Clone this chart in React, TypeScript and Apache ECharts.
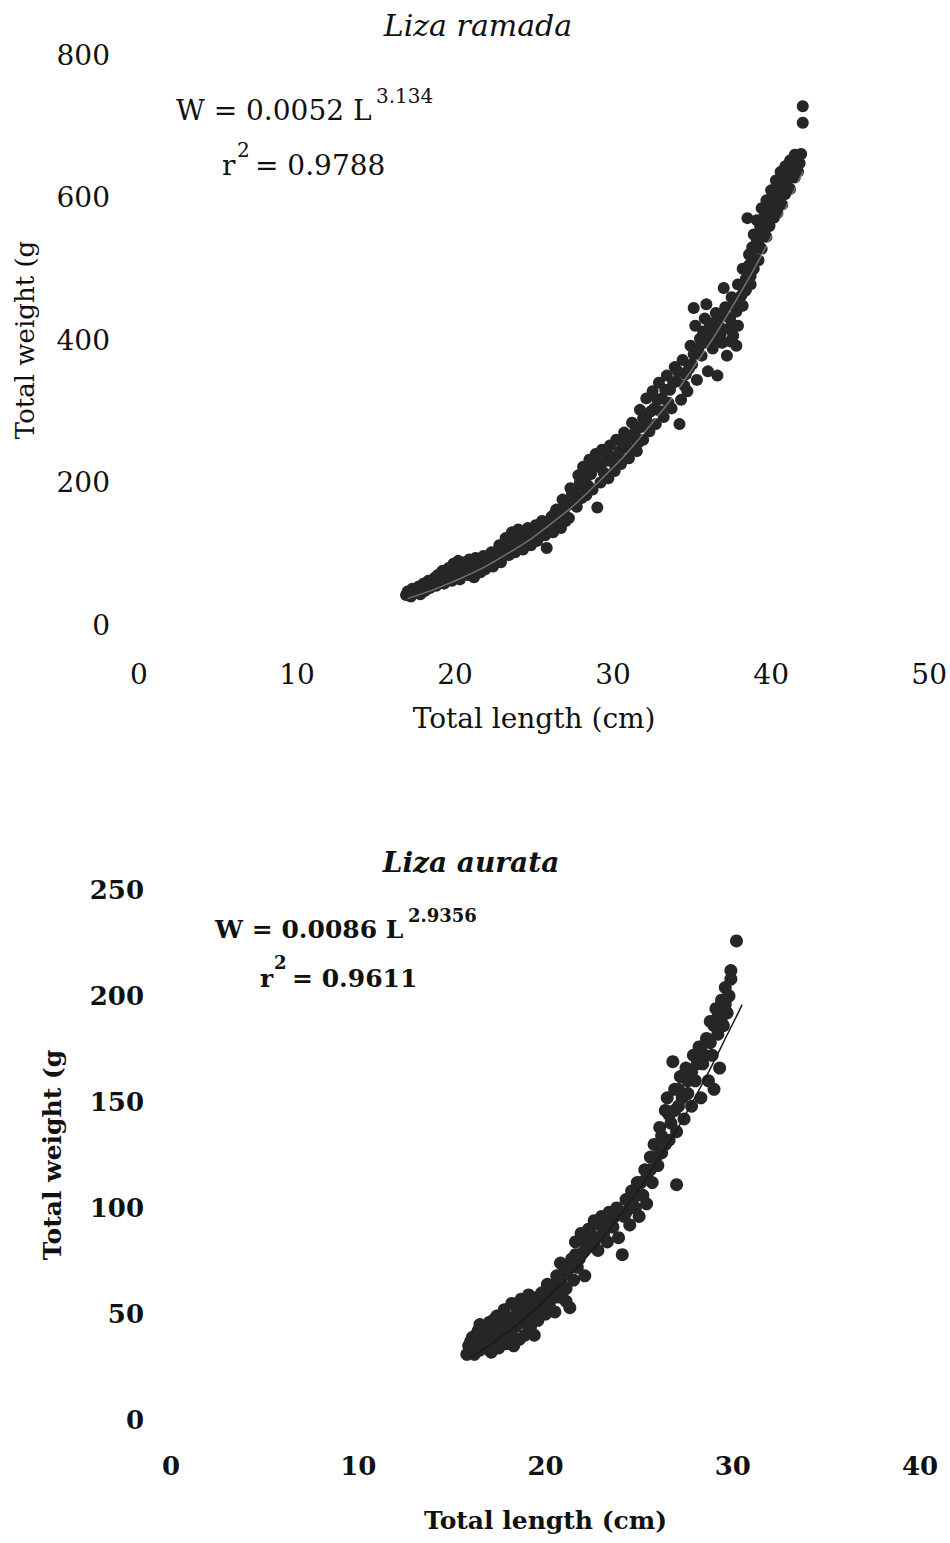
import React, { useEffect, useRef } from "react";
import * as echarts from "echarts";

// Liza ramada: total length (cm), total weight (g)
const ramadaPoints: [number, number][] = [
  [16.9, 42], [17.0, 47], [17.2, 40], [17.3, 51], [17.5, 45], [17.7, 54], [17.8, 43], [18.0, 58],
  [18.1, 48], [18.3, 62], [18.4, 52], [18.6, 57], [18.7, 66], [18.8, 55], [18.9, 70], [19.0, 61],
  [19.2, 76], [19.3, 58], [19.5, 68], [19.6, 80], [19.8, 62], [19.9, 86], [20.0, 72], [20.2, 90],
  [20.3, 64], [20.4, 79], [20.6, 88], [20.8, 70], [20.9, 92], [21.0, 80], [21.2, 67], [21.3, 94],
  [21.5, 84], [21.6, 74], [21.8, 97], [21.9, 78], [22.1, 88], [22.3, 102], [22.4, 82], [22.6, 96],
  [22.8, 112], [22.9, 88], [23.1, 104], [23.2, 122], [23.4, 98], [23.6, 130], [23.7, 112], [23.8, 102],
  [24.0, 134], [24.1, 118], [24.3, 106], [24.4, 128], [24.6, 136], [24.8, 112], [24.9, 124], [25.1, 140],
  [25.2, 118], [25.3, 132], [25.5, 146], [25.7, 126], [25.8, 108], [25.9, 140], [26.1, 152], [26.2, 130],
  [26.4, 162], [26.5, 144], [26.7, 136], [26.8, 176], [26.9, 156], [27.1, 168], [27.2, 150], [27.3, 192],
  [27.5, 178], [27.7, 166], [27.8, 210], [27.9, 188], [28.1, 222], [28.2, 200], [28.3, 182], [28.5, 232],
  [28.6, 212], [28.7, 190], [28.9, 240], [29.0, 165], [29.1, 222], [29.2, 200], [29.3, 246], [29.5, 230],
  [29.7, 206], [29.8, 252], [29.9, 236], [30.1, 216], [30.2, 260], [30.4, 244], [30.5, 226], [30.7, 270],
  [30.8, 250], [31.0, 234], [31.2, 284], [31.3, 262], [31.5, 244], [31.7, 302], [31.8, 278], [31.9, 260],
  [32.1, 318], [32.1, 292], [32.3, 272], [32.5, 328], [32.6, 304], [32.7, 282], [32.9, 340], [33.1, 318],
  [33.2, 292], [33.4, 350], [33.6, 330], [33.7, 304], [33.9, 362], [34.0, 342], [34.2, 282], [34.3, 316],
  [34.4, 372], [34.6, 352], [34.7, 328], [34.9, 392], [35.0, 366], [35.1, 445], [35.2, 420], [35.3, 344],
  [35.5, 402], [35.6, 378], [35.8, 430], [35.9, 450], [36.0, 356], [36.2, 410], [36.3, 388], [36.5, 438],
  [36.6, 350], [36.7, 420], [36.9, 396], [37.0, 473], [37.1, 446], [37.2, 378], [37.4, 430], [37.5, 460],
  [37.6, 406], [37.8, 392], [37.9, 478], [38.0, 448], [38.2, 500], [38.3, 468], [38.5, 571], [38.6, 520],
  [38.7, 490], [38.9, 548], [39.0, 514], [39.1, 568], [39.2, 534], [39.4, 585], [39.5, 552], [39.7, 596],
  [39.8, 570], [40.0, 610], [40.1, 582], [40.3, 624], [40.4, 596], [40.6, 636], [40.7, 610], [40.9, 644],
  [41.0, 622], [41.2, 652], [41.3, 634], [41.5, 660], [41.6, 642], [41.8, 648], [41.9, 661], [42.0, 705],
  [42.0, 728],
  [17.1, 44], [17.4, 46], [17.6, 50], [17.9, 52], [18.2, 55], [18.5, 60], [18.9, 63], [19.1, 66],
  [19.4, 64], [19.7, 74], [20.1, 78], [20.5, 84], [20.7, 76], [21.1, 86], [21.4, 80], [21.7, 90],
  [22.0, 86], [22.2, 94], [22.5, 90], [22.7, 104], [23.0, 96], [23.3, 112], [23.5, 118], [23.9, 124],
  [24.2, 112], [24.5, 120], [24.7, 130], [25.0, 132], [25.4, 126], [25.6, 138], [26.0, 146], [26.3, 156],
  [26.6, 154], [26.9, 166], [27.0, 146], [27.4, 184], [27.6, 172], [27.9, 200], [28.0, 178], [28.4, 210],
  [28.4, 196], [28.8, 222], [29.0, 230], [29.4, 214], [29.6, 240], [30.0, 228], [30.3, 236], [30.6, 256],
  [30.9, 262], [31.1, 246], [31.4, 272], [31.6, 256], [31.9, 290], [32.2, 282], [32.4, 300], [32.8, 316],
  [33.0, 300], [33.3, 330], [33.5, 312], [33.8, 340], [34.1, 356], [34.5, 336], [34.8, 360], [35.1, 380],
  [35.4, 388], [35.7, 412], [35.9, 396], [36.1, 424], [36.4, 402], [36.6, 426], [36.8, 408], [37.1, 434],
  [37.3, 416], [37.6, 448], [37.8, 440], [38.1, 462], [38.4, 486], [38.6, 505], [38.8, 530], [39.1, 540],
  [39.3, 560], [39.6, 575], [39.9, 590], [40.2, 602], [40.5, 615], [40.8, 630], [41.1, 640], [41.4, 648],
  [41.7, 655],
  [38.4, 470], [38.7, 478], [38.9, 500], [39.2, 512], [39.4, 528], [39.7, 545], [39.9, 560], [40.2, 572],
  [40.4, 578], [40.7, 590], [40.9, 605], [41.2, 612], [41.5, 628], [41.7, 636], [39.0, 530], [39.6, 562],
  [40.1, 596], [40.6, 604], [41.0, 630], [38.2, 448], [37.9, 420], [37.4, 398],
];

// Liza ramada fitted curve W = 0.0052 L^3.134
const ramadaFitL = [17, 20, 23, 26, 29, 32, 35, 38, 40, 42];
const ramadaFitW = [37, 62, 96, 141, 199, 271, 359, 464, 545, 636];

// Liza aurata: total length (cm), total weight (g)
const aurataPoints: [number, number][] = [
  [15.8, 31], [15.9, 35], [16.0, 33], [16.1, 39], [16.2, 31], [16.3, 36], [16.4, 42], [16.5, 33],
  [16.6, 38], [16.7, 44], [16.8, 34], [16.9, 40], [17.0, 46], [17.1, 32], [17.2, 37], [17.3, 43],
  [17.4, 49], [17.5, 34], [17.6, 40], [17.7, 46], [17.8, 52], [17.9, 36], [18.0, 42], [18.1, 48],
  [18.2, 55], [18.3, 35], [18.4, 44], [18.5, 51], [18.6, 38], [18.7, 57], [18.8, 46], [18.9, 40],
  [19.0, 53], [19.1, 59], [19.2, 44], [19.3, 50], [19.4, 40], [19.5, 56], [19.6, 47], [19.8, 60],
  [19.9, 52], [20.0, 57], [20.1, 64], [20.2, 54], [20.3, 61], [20.5, 51], [20.6, 68], [20.7, 58],
  [20.8, 74], [20.9, 63], [21.0, 70], [21.1, 56], [21.3, 53], [21.4, 76], [21.5, 66], [21.6, 84],
  [21.7, 72], [21.9, 88], [22.0, 79], [22.1, 68], [22.3, 90], [22.4, 82], [22.6, 94], [22.7, 86],
  [22.8, 80], [23.0, 96], [23.1, 88], [23.3, 84], [23.4, 98], [23.6, 91], [23.8, 100], [23.9, 86],
  [24.1, 78], [24.2, 96], [24.3, 104], [24.5, 92], [24.6, 108], [24.8, 100], [24.9, 112], [25.0, 96],
  [25.2, 106], [25.3, 118], [25.4, 102], [25.6, 124], [25.7, 112], [25.8, 130], [26.0, 120], [26.1, 138],
  [26.2, 126], [26.4, 146], [26.5, 152], [26.6, 132], [26.7, 140], [26.8, 169], [26.9, 156], [27.0, 111],
  [27.0, 136], [27.1, 148], [27.2, 162], [27.4, 142], [27.5, 166], [27.6, 154], [27.8, 148], [27.9, 172],
  [28.0, 160], [28.2, 176], [28.3, 152], [28.4, 168], [28.6, 180], [28.7, 160], [28.8, 188], [28.9, 172],
  [29.0, 156], [29.1, 194], [29.2, 182], [29.3, 166], [29.4, 198], [29.5, 186], [29.6, 204], [29.7, 192],
  [29.9, 212], [29.9, 208], [30.2, 226],
  [16.0, 37], [16.3, 40], [16.5, 45], [16.8, 38], [17.0, 41], [17.2, 47], [17.5, 44], [17.7, 38],
  [17.9, 47], [18.2, 40], [18.4, 49], [18.6, 53], [18.9, 50], [19.1, 46], [19.3, 55], [19.6, 58],
  [19.8, 54], [20.0, 50], [20.3, 57], [20.5, 64], [20.8, 66], [21.1, 62], [21.3, 72], [21.6, 78],
  [21.8, 76], [22.1, 84], [22.4, 88], [22.6, 84], [22.9, 92], [23.2, 92], [23.5, 94], [23.7, 96],
  [24.0, 98], [24.3, 98], [24.6, 102], [24.9, 106], [25.1, 112], [25.4, 114], [25.6, 118], [25.9, 124],
  [26.2, 134], [26.4, 130], [26.6, 144], [26.9, 146], [27.1, 156], [27.3, 152], [27.6, 160], [27.8, 164],
  [28.1, 168], [28.3, 176], [28.5, 172], [28.8, 178], [29.0, 186], [29.2, 190], [29.4, 190], [29.6, 196],
  [29.8, 200],
];

// Liza aurata fitted curve W = 0.0086 L^2.9356
const aurataFitL = [16, 18, 20, 22, 24, 26, 28, 30, 30.5];
const aurataFitW = [29.5, 41.6, 56.8, 75, 96.9, 122.6, 152.4, 186.9, 195.9];

// Axis tick settings
const ramadaX = { min: 0, max: 50, interval: 10 };
const ramadaY = { min: 0, max: 800, interval: 200 };
const aurataX = { min: 0, max: 40, interval: 10 };
const aurataY = { min: 0, max: 250, interval: 50 };

const FONT = "DejaVu Serif";
const INK = "#111111";
const DOT = "#262626";

function pair(xs: number[], ys: number[]): [number, number][] {
  return xs.map((x, i) => [x, ys[i]]);
}

export default function App() {
  const ref = useRef<HTMLDivElement>(null);

  useEffect(() => {
    if (!ref.current) return;
    const chart = echarts.init(ref.current, undefined, { renderer: "svg" });

    const hidden = { show: false };
    const txt = (
      text: string,
      x: number,
      y: number,
      size: number,
      opts: { weight?: string; style?: string; align?: string } = {}
    ) => ({
      type: "text",
      x,
      y,
      silent: true,
      style: {
        text,
        fill: INK,
        fontFamily: FONT,
        fontSize: size,
        fontWeight: opts.weight || "normal",
        fontStyle: opts.style || "normal",
        align: opts.align || "left",
        verticalAlign: "middle",
        textAlign: opts.align || "left",
        textVerticalAlign: "middle",
      },
    });

    const option: any = {
      animation: false,
      backgroundColor: "#ffffff",
      grid: [
        { left: 139, top: 55, width: 791, height: 570 },
        { left: 171, top: 890, width: 749, height: 530 },
      ],
      xAxis: [
        {
          type: "value",
          gridIndex: 0,
          ...ramadaX,
          axisLine: hidden,
          axisTick: hidden,
          splitLine: hidden,
          axisLabel: {
            fontFamily: FONT,
            fontSize: 28,
            color: INK,
            margin: 35,
            showMinLabel: true,
            showMaxLabel: true,
          },
          name: "Total length (cm)",
          nameLocation: "middle",
          nameGap: 79,
          nameTextStyle: { fontFamily: FONT, fontSize: 28, color: INK },
        },
        {
          type: "value",
          gridIndex: 1,
          ...aurataX,
          axisLine: hidden,
          axisTick: hidden,
          splitLine: hidden,
          axisLabel: {
            fontFamily: FONT,
            fontSize: 26,
            fontWeight: "bold",
            color: INK,
            margin: 33,
            showMinLabel: true,
            showMaxLabel: true,
          },
          name: "Total length (cm)",
          nameLocation: "middle",
          nameGap: 88,
          nameTextStyle: { fontFamily: FONT, fontSize: 25, fontWeight: "bold", color: INK },
        },
      ],
      yAxis: [
        {
          type: "value",
          gridIndex: 0,
          ...ramadaY,
          axisLine: hidden,
          axisTick: hidden,
          splitLine: hidden,
          axisLabel: { fontFamily: FONT, fontSize: 28, color: INK, margin: 29 },
          name: "Total weight (g",
          nameLocation: "middle",
          nameRotate: 90,
          nameGap: 101,
          nameTextStyle: { fontFamily: FONT, fontSize: 26, color: INK },
        },
        {
          type: "value",
          gridIndex: 1,
          ...aurataY,
          axisLine: hidden,
          axisTick: hidden,
          splitLine: hidden,
          axisLabel: { fontFamily: FONT, fontSize: 26, fontWeight: "bold", color: INK, margin: 27 },
          name: "Total weight (g",
          nameLocation: "middle",
          nameRotate: 90,
          nameGap: 106,
          nameTextStyle: { fontFamily: FONT, fontSize: 25, fontWeight: "bold", color: INK },
        },
      ],
      series: [
        {
          name: "Liza ramada",
          type: "scatter",
          xAxisIndex: 0,
          yAxisIndex: 0,
          data: ramadaPoints,
          symbol: "circle",
          symbolSize: 12,
          itemStyle: { color: DOT, opacity: 1 },
          z: 2,
        },
        {
          name: "Liza ramada fit",
          type: "line",
          xAxisIndex: 0,
          yAxisIndex: 0,
          data: pair(ramadaFitL, ramadaFitW),
          smooth: true,
          showSymbol: false,
          lineStyle: { color: "#ffffff", width: 1.5, opacity: 0.35 },
          z: 3,
        },
        {
          name: "Liza aurata",
          type: "scatter",
          xAxisIndex: 1,
          yAxisIndex: 1,
          data: aurataPoints,
          symbol: "circle",
          symbolSize: 13,
          itemStyle: { color: DOT, opacity: 1 },
          z: 2,
        },
        {
          name: "Liza aurata fit",
          type: "line",
          xAxisIndex: 1,
          yAxisIndex: 1,
          data: pair(aurataFitL, aurataFitW),
          smooth: true,
          showSymbol: false,
          lineStyle: { color: "#1a1a1a", width: 1.5 },
          z: 3,
        },
      ],
      graphic: [
        txt("Liza ramada", 478, 25, 30, { style: "italic", align: "center" }),
        txt("W = 0.0052 L", 176, 110, 28),
        txt("3.134", 376, 96, 20),
        txt("r", 222, 165, 28),
        txt("2", 237, 150, 20),
        txt("= 0.9788", 255, 165, 28),
        txt("Liza aurata", 471, 862, 28, { style: "italic", weight: "bold", align: "center" }),
        txt("W = 0.0086 L", 215, 929, 25, { weight: "bold" }),
        txt("2.9356", 408, 915, 18, { weight: "bold" }),
        txt("r", 260, 978, 25, { weight: "bold" }),
        txt("2", 274, 962, 18, { weight: "bold" }),
        txt("= 0.9611", 292, 978, 25, { weight: "bold" }),
      ],
    };

    chart.setOption(option);
    return () => chart.dispose();
  }, []);

  return (
    <div
      ref={ref}
      style={{ position: "absolute", left: 0, top: 0, width: 950, height: 1543, background: "#fff" }}
    />
  );
}
